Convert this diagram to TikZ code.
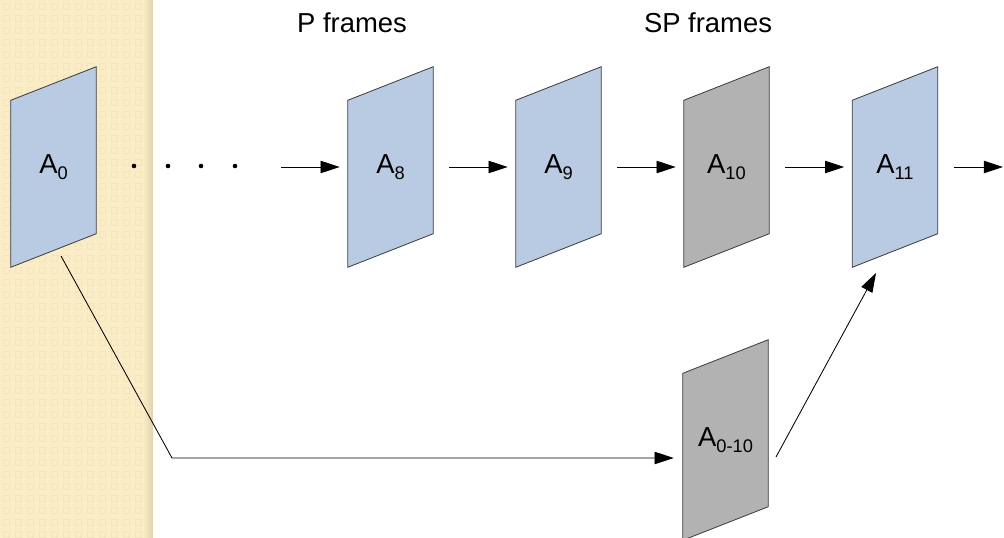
\documentclass[tikz,border=0pt]{standalone}
\usepackage{fontspec}
\setmainfont{Liberation Sans}
\usetikzlibrary{arrows.meta,backgrounds}
\definecolor{paper}{RGB}{250,236,197}
\definecolor{paperdot}{RGB}{244,228,187}
\definecolor{paperedge}{RGB}{224,210,172}
\definecolor{frameblue}{RGB}{185,202,227}
\definecolor{framegray}{RGB}{178,178,178}
\newcommand{\fsub}[1]{\raisebox{-0.2em}{\fontsize{13}{15}\selectfont #1}}

\begin{document}
\begin{tikzpicture}[x=0.025cm,y=-0.025cm,
  >={Triangle[length=0.48cm,width=0.31cm]},
  vframe/.style={minimum width=2.125cm,minimum height=5cm,inner sep=0pt,font=\fontsize{19.5}{23}\selectfont},
  title/.style={font=\fontsize{19.5}{23}\selectfont,anchor=base},
  link/.style={->,line width=0.6pt}]
\useasboundingbox (0,0) rectangle (1004,538);

% frames
\node[vframe] (A0) at (53.5,167) {A\fsub{0}};
\node[vframe] (A8) at (390.5,167) {A\fsub{8}};
\node[vframe] (A9) at (558.5,167) {A\fsub{9}};
\node[vframe] (A10) at (726.5,167) {A\fsub{10}};
\node[vframe] (A11) at (895,167) {A\fsub{11}};
\node[vframe] (A010) at (725.5,440) {A\fsub{0-10}};

\node[title] (ptitle) at (352,33) {P frames};
\node[title] (sptitle) at (708,33) {SP frames};

\begin{scope}[on background layer]
% paper strip on the left
\fill[paper] (0,0) rectangle (143,538);
\foreach \i in {0,...,11}
  \foreach \j in {0,...,44}
    \draw[paperdot,line width=0.7pt] (\i*12+3,\j*12+3) rectangle ++(6,6);
\shade[left color=paper,right color=paperedge] (143,0) rectangle (153,538);
\foreach \f/\c in {A0/frameblue,A8/frameblue,A9/frameblue,A10/framegray,A11/frameblue,A010/framegray}
  \filldraw[fill=\c,draw=black!75,line width=0.6pt] (\f.south west) -- ++(0,-167) -- (\f.north east) -- ++(0,167) -- cycle;
\end{scope}

% dots
\foreach \x in {134,168,201,235}
  \fill (\x,166) circle (2.3);

\coordinate (dotsend) at (281,167);
\coordinate (exit) at (1003,167);
\draw[link,shorten >=0.2cm] (dotsend) -- (A8);
\draw[link,shorten <=0.4cm,shorten >=0.2cm] (A8) -- (A9);
\draw[link,shorten <=0.4cm,shorten >=0.2cm] (A9) -- (A10);
\draw[link,shorten <=0.4cm,shorten >=0.2cm] (A10) -- (A11);
\draw[link,shorten <=0.4cm] (A11) -- (exit);

\coordinate (a0foot) at (61,256);
\coordinate (bend) at (172,458);
\draw[link,shorten >=0.225cm] (a0foot) -- (bend) -- (bend -| A010.west);
\coordinate (spfoot) at (776,457);
\coordinate (sptip) at (876,273);
\draw[link] (spfoot) -- (sptip);
\end{tikzpicture}
\end{document}
